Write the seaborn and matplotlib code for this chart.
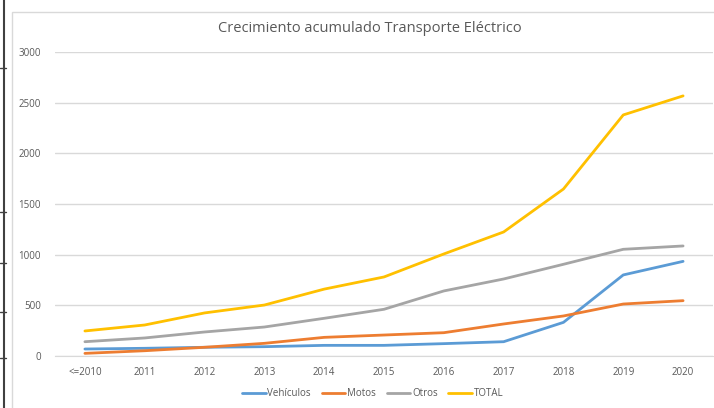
import matplotlib.pyplot as plt
import pandas as pd
import seaborn as sns
from matplotlib.lines import Line2D
from matplotlib.patches import Rectangle

# Data
years = ['<=2010', '2011', '2012', '2013', '2014', '2015',
         '2016', '2017', '2018', '2019', '2020']
vehiculos = [69, 76, 86, 92, 105, 105, 122, 141, 332, 800, 934]
motos = [26, 52, 86, 125, 184, 207, 230, 316, 395, 513, 546]
otros = [141, 178, 237, 286, 372, 461, 642, 760, 905, 1053, 1086]
total = [247, 306, 425, 503, 660, 780, 1007, 1224, 1648, 2379, 2567]

series_names = ['Vehículos', 'Motos', 'Otros', 'TOTAL']
colors = ['#5B9BD5', '#ED7D31', '#A5A5A5', '#FFC000']

df = pd.DataFrame({'Año': years, 'Vehículos': vehiculos, 'Motos': motos,
                   'Otros': otros, 'TOTAL': total})
df_long = df.melt(id_vars='Año', var_name='Serie', value_name='Valor')

sns.set_style('white')
plt.rcParams['font.family'] = ['Open Sans', 'DejaVu Sans']

fig = plt.figure(figsize=(7.14, 4.08), dpi=100)
ax = fig.add_axes([55 / 714, 52 / 408, 658 / 714, 304 / 408])

sns.lineplot(data=df_long, x='Año', y='Valor', hue='Serie',
             hue_order=series_names, palette=colors, linewidth=2.0,
             sort=False, ax=ax, legend=False)

ax.set_xlim(-0.5, 10.5)
ax.set_ylim(0, 3000)
ax.set_yticks(range(0, 3001, 500))
ax.grid(axis='y', color='#D9D9D9', linewidth=1)
ax.set_axisbelow(True)
for side in ['top', 'right', 'left']:
    ax.spines[side].set_visible(False)
ax.spines['bottom'].set_color('#D9D9D9')
ax.tick_params(axis='both', length=0, labelsize=7, colors='#595959')
ax.tick_params(axis='y', pad=10)
ax.tick_params(axis='x', pad=8)
ax.set_xlabel('')
ax.set_ylabel('')

fig.text(0.518, 0.93, 'Crecimiento acumulado Transporte Eléctrico',
         ha='center', va='center', fontsize=10.5, color='#595959')

handles = [Line2D([0], [0], color=c, linewidth=2.0) for c in colors]
fig.legend(handles, series_names, loc='center', bbox_to_anchor=(0.522, 0.035),
           ncol=4, frameon=False, fontsize=7, handlelength=2.4,
           columnspacing=1.1, handletextpad=0.2, labelcolor='#595959')

# chart area border and sheet edge
fig.patches.append(Rectangle((12 / 714, -0.01), 1.0, (400 / 408),
                             transform=fig.transFigure, fill=False,
                             edgecolor='#D9D9D9', linewidth=1))
fig.lines.append(Line2D([4 / 714, 4 / 714], [0, 1], transform=fig.transFigure,
                        color='#404040', linewidth=1.5))
for yy in [68, 212, 263, 312, 358]:
    fig.lines.append(Line2D([0, 6 / 714], [1 - yy / 408, 1 - yy / 408],
                            transform=fig.transFigure, color='#404040',
                            linewidth=1))

fig.savefig('out.png', dpi=100)
